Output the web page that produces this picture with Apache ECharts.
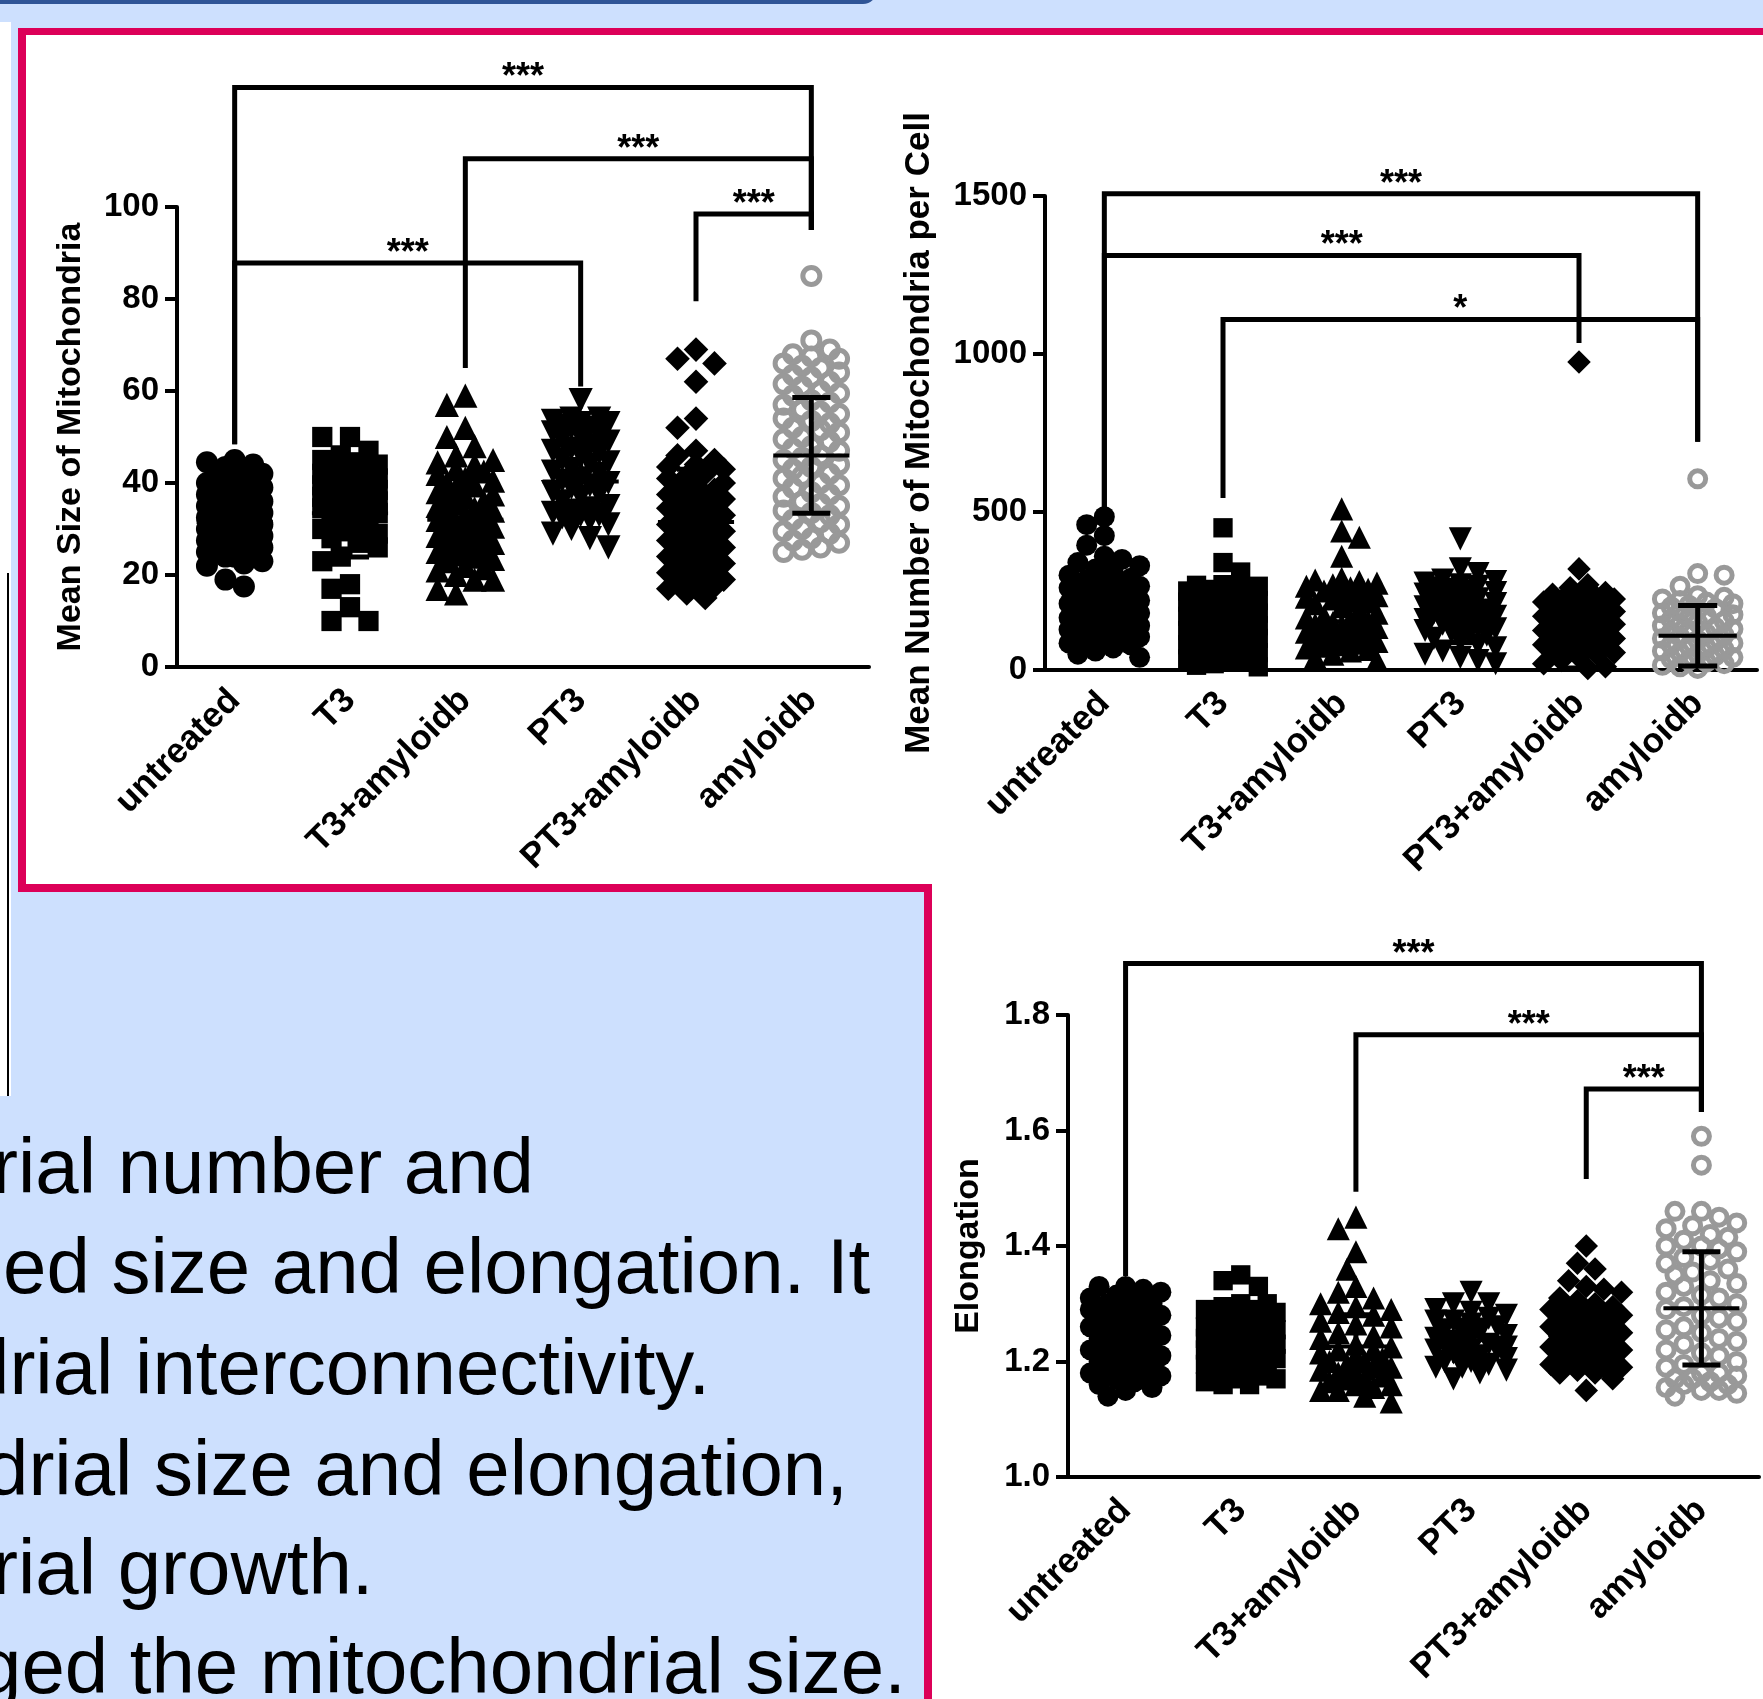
<!DOCTYPE html>
<html>
<head>
<meta charset="utf-8">
<script src="https://cdn.jsdelivr.net/npm/echarts@6/dist/echarts.min.js"></script>
<style>
html,body{margin:0;padding:0;}
body{width:1763px;height:1699px;position:relative;overflow:hidden;background:#cde0fe;font-family:'Liberation Sans',Arial,sans-serif;}
.abs{position:absolute;}
#topbar{left:-20px;top:-30px;width:897px;height:34px;background:#2f5597;border-radius:0 0 14px 0;}
#strip{left:0;top:22px;width:11px;height:1074px;background:#fff;}
#stripline{left:7px;top:573px;width:2px;height:523px;background:#000;}
#white{left:26px;top:35px;right:0;bottom:0;background:#fff;}
#redtop{left:18px;top:28px;right:0;height:7px;background:#dc0058;}
#redleft{left:18px;top:28px;width:8px;height:864px;background:#dc0058;}
#textbox{left:18px;top:884px;width:906px;bottom:0;background:#cde0fe;border-top:8px solid #dc0058;border-right:8px solid #dc0058;}
.ln{position:absolute;white-space:nowrap;font-size:78px;line-height:78px;color:#000;}
#main{position:absolute;left:0;top:0;width:1763px;height:1699px;}
</style>
</head>
<body>
<div class="abs" id="topbar"></div>
<div class="abs" id="white"></div>
<div class="abs" id="textbox"></div>
<div class="abs" id="redtop"></div>
<div class="abs" id="redleft"></div>
<div class="abs" id="strip"></div>
<div class="abs" id="stripline"></div>
<div class="ln" style="left:-8px;top:1127px">rial number and</div>
<div class="ln" style="left:3px;top:1227px">ed size and elongation. It</div>
<div class="ln" style="left:-34px;top:1328px">drial interconnectivity.</div>
<div class="ln" style="left:-15px;top:1429px">drial size and elongation,</div>
<div class="ln" style="left:-8px;top:1528px">rial growth.</div>
<div class="ln" style="left:-22px;top:1627px">ged the mitochondrial size.</div>
<div id="main"></div>
<script>
var categories = ['untreated', 'T3', 'T3+amyloidb', 'PT3', 'PT3+amyloidb', 'amyloidb'];

// mean size of mitochondria
var sizeUntreated = [45, 44.5, 44, 43.5, 43, 42, 42, 41, 41, 40, 40, 39.5, 39, 39, 38, 38, 37.5, 37, 37, 36, 36, 35.5, 35, 35, 34.5, 34, 34, 33.5, 33, 33, 32.5, 32, 32, 31.5, 31, 31, 30.5, 30, 30, 29.5, 29, 29, 28.5, 28, 28, 27.5, 27, 27, 26.5, 26, 26, 25, 25, 24, 24, 23, 22.5, 22, 19, 17.5];
var sizeT3 = [50, 50, 47, 46, 45, 44.5, 44, 43, 42.5, 42, 41.5, 41, 40.5, 40, 40, 39.5, 39, 39, 38.5, 38, 38, 37.5, 37, 37, 36.5, 36, 36, 35.5, 35, 35, 34.5, 34, 34, 33.5, 33, 33, 32, 31, 30, 29.5, 29, 28, 27, 26, 24, 23, 18, 17, 13, 10, 10];
var sizeT3Amy = [59, 57, 52, 50, 48, 46, 45, 44.5, 44, 43, 42.5, 42, 41, 40.5, 40, 39.5, 39, 38, 37.5, 37, 36.5, 36, 35.5, 35, 34.5, 34, 33.5, 33, 32.5, 32, 31.5, 31, 30.5, 30, 29.5, 29, 28.5, 28, 27.5, 27, 26.5, 26, 25.5, 25, 24.5, 24, 23.5, 23, 22, 21.5, 21, 20, 19, 19, 17, 16];
var sizePT3 = [58, 54, 54, 53.5, 53, 53, 52.5, 52, 52, 51, 50.5, 50, 49.5, 49, 48, 47.5, 47, 46.5, 46, 45, 44.5, 44, 43, 42.5, 42, 41, 40.5, 40, 39.5, 39, 38, 37.5, 37, 36, 35, 34.5, 34, 33.5, 33, 33, 32.5, 32, 31, 30, 29, 28, 26];
var sizePT3Amy = [69, 67, 66, 62, 54, 52, 47, 46, 45, 44, 43.5, 43, 42, 41.5, 41, 40, 39.5, 39, 38.5, 38, 37.5, 37, 36.5, 36, 35.5, 35, 34.5, 34, 33.5, 33, 32.5, 32, 31.5, 31, 30.5, 30, 29.5, 29, 28.5, 28, 27.5, 27, 26.5, 26, 25.5, 25, 24.5, 24, 23.5, 23, 22.5, 22, 21.5, 21, 20.5, 20, 19.5, 19, 18.5, 18, 17.5, 17, 16, 15];
var sizeAmy = [85, 71, 69, 68, 67.5, 67, 66, 65.5, 65, 64, 63.5, 63, 62, 61.5, 61, 60, 59.5, 59, 58, 57.5, 57, 56, 55.5, 55, 54, 53.5, 53, 52, 51.5, 51, 50, 49.5, 49, 48, 47.5, 47, 46, 45.5, 45, 44, 43.5, 43, 42, 41.5, 41, 40, 39.5, 39, 38, 37.5, 37, 36, 35.5, 35, 34, 33.5, 33, 32, 31.5, 31, 30, 29.5, 29, 28, 27.5, 27, 26, 25.5, 25];
var sizeMean = [31.5, 33.4, 32, 40.3, 31.5, 46];
var sizeSd = [6.5, 9.5, 9, 7.5, 11.5, 12.6];
var sizeBrackets = [[0, 48.4, 5, 95, 126], [2, 65, 5, 95, 110.5], [4, 79.5, 5, 95, 98.5], [0, 48.4, 3, 61, 87.8]];
var sizeStars = ['***', '***', '***', '***'];

// mean number of mitochondria per cell
var numUntreated = [485, 460, 425, 395, 360, 350, 340, 330, 320, 310, 300, 290, 285, 280, 270, 265, 260, 250, 245, 240, 235, 230, 225, 220, 215, 210, 205, 200, 195, 190, 185, 180, 175, 170, 165, 160, 155, 150, 145, 140, 138, 135, 130, 128, 125, 120, 115, 110, 105, 100, 95, 90, 85, 80, 70, 60, 50, 40];
var numT3 = [450, 340, 310, 270, 268, 265, 260, 255, 250, 245, 240, 235, 230, 225, 220, 215, 210, 205, 200, 195, 190, 185, 180, 175, 170, 165, 160, 155, 150, 145, 140, 135, 130, 125, 120, 115, 110, 105, 100, 95, 90, 85, 80, 75, 70, 65, 60, 55, 50, 45, 40, 35, 30, 25, 20, 15, 10];
var numT3Amy = [510, 440, 420, 360, 290, 285, 280, 275, 270, 265, 260, 255, 250, 245, 240, 235, 230, 225, 220, 215, 210, 200, 190, 180, 170, 165, 160, 155, 150, 145, 140, 135, 130, 125, 120, 115, 110, 100, 95, 90, 85, 80, 75, 70, 65, 60, 50, 40, 30];
var numPT3 = [415, 320, 305, 285, 280, 275, 270, 265, 260, 255, 250, 245, 240, 235, 230, 225, 220, 215, 210, 205, 200, 195, 190, 185, 180, 175, 170, 165, 160, 155, 150, 145, 140, 135, 130, 125, 120, 115, 110, 100, 90, 80, 70, 60, 50, 40, 30, 20];
var numPT3Amy = [975, 320, 270, 260, 245, 240, 235, 230, 225, 220, 215, 210, 205, 200, 195, 190, 185, 180, 175, 170, 165, 160, 155, 150, 145, 140, 135, 130, 125, 120, 115, 110, 105, 100, 95, 90, 85, 80, 75, 70, 65, 60, 55, 50, 40, 30, 20, 10, 5];
var numAmy = [605, 305, 300, 265, 235, 230, 225, 220, 215, 210, 205, 200, 195, 190, 185, 180, 175, 170, 165, 160, 155, 150, 145, 140, 135, 130, 125, 120, 115, 110, 105, 100, 95, 90, 85, 80, 75, 70, 65, 60, 55, 50, 45, 40, 35, 30, 25, 20, 15, 10, 5];
var numMean = [195, 154, 154, 167, 126, 108.5];
var numSd = [95, 85, 95, 80, 120, 95.5];
var numBrackets = [[0, 501, 5, 722, 1507], [0, 501, 4, 1035, 1312], [1, 544, 5, 722, 1109]];
var numStars = ['***', '***', '*'];

// elongation
var elUntreated = [1.33, 1.33, 1.325, 1.32, 1.315, 1.31, 1.305, 1.30, 1.30, 1.295, 1.29, 1.285, 1.28, 1.28, 1.275, 1.27, 1.265, 1.26, 1.26, 1.255, 1.25, 1.245, 1.24, 1.24, 1.235, 1.23, 1.225, 1.22, 1.22, 1.215, 1.21, 1.205, 1.20, 1.20, 1.195, 1.19, 1.185, 1.18, 1.18, 1.175, 1.17, 1.165, 1.16, 1.155, 1.15, 1.14];
var elT3 = [1.35, 1.34, 1.33, 1.30, 1.30, 1.295, 1.29, 1.29, 1.285, 1.28, 1.28, 1.275, 1.27, 1.27, 1.265, 1.26, 1.26, 1.255, 1.25, 1.25, 1.25, 1.245, 1.24, 1.24, 1.24, 1.235, 1.23, 1.23, 1.23, 1.225, 1.22, 1.22, 1.22, 1.215, 1.21, 1.21, 1.21, 1.205, 1.20, 1.20, 1.20, 1.195, 1.19, 1.19, 1.185, 1.18, 1.18, 1.175, 1.17, 1.17, 1.165, 1.16, 1.16];
var elT3Amy = [1.45, 1.43, 1.39, 1.36, 1.33, 1.32, 1.31, 1.30, 1.295, 1.29, 1.285, 1.28, 1.27, 1.265, 1.26, 1.25, 1.245, 1.24, 1.23, 1.225, 1.22, 1.22, 1.215, 1.21, 1.205, 1.20, 1.20, 1.195, 1.19, 1.19, 1.185, 1.18, 1.18, 1.175, 1.17, 1.17, 1.165, 1.16, 1.16, 1.155, 1.15, 1.15, 1.14, 1.13];
var elPT3 = [1.32, 1.30, 1.30, 1.29, 1.285, 1.28, 1.275, 1.27, 1.27, 1.265, 1.26, 1.255, 1.25, 1.25, 1.245, 1.24, 1.24, 1.235, 1.23, 1.23, 1.23, 1.225, 1.22, 1.22, 1.22, 1.215, 1.21, 1.21, 1.205, 1.20, 1.20, 1.195, 1.19, 1.19, 1.185, 1.18, 1.17];
var elPT3Amy = [1.40, 1.37, 1.36, 1.34, 1.33, 1.325, 1.32, 1.31, 1.305, 1.30, 1.295, 1.29, 1.29, 1.285, 1.28, 1.28, 1.275, 1.27, 1.27, 1.265, 1.26, 1.26, 1.255, 1.25, 1.25, 1.245, 1.24, 1.24, 1.235, 1.23, 1.23, 1.225, 1.22, 1.22, 1.215, 1.21, 1.21, 1.205, 1.20, 1.20, 1.195, 1.19, 1.19, 1.185, 1.18, 1.18, 1.17, 1.15];
var elAmy = [1.59, 1.54, 1.46, 1.46, 1.45, 1.44, 1.435, 1.43, 1.42, 1.415, 1.41, 1.40, 1.40, 1.395, 1.39, 1.38, 1.375, 1.37, 1.36, 1.355, 1.35, 1.34, 1.335, 1.33, 1.32, 1.315, 1.31, 1.30, 1.295, 1.29, 1.28, 1.275, 1.27, 1.26, 1.255, 1.25, 1.24, 1.235, 1.23, 1.22, 1.215, 1.21, 1.20, 1.195, 1.19, 1.18, 1.18, 1.175, 1.17, 1.17, 1.165, 1.16, 1.16, 1.155, 1.15, 1.15, 1.145, 1.14];
var elMean = [1.233, 1.233, 1.226, 1.237, 1.246, 1.292];
var elSd = [0.045, 0.04, 0.055, 0.035, 0.05, 0.098];
var elBrackets = [[0, 1.348, 5, 1.632, 1.889], [2, 1.494, 5, 1.632, 1.766], [4, 1.516, 5, 1.632, 1.672]];
var elStars = ['***', '***', '***'];

var FONT = 'Liberation Sans, Arial, sans-serif';
var symbols = ['circle', 'rect', 'triangle', 'triangle', 'diamond', 'circle'];
var rotations = [0, 0, 0, 180, 0, 0];
var sizeScale = [1, 0.92, 1.1, 1.1, 1.12, 1];

// simple beeswarm: spread points sideways until they stop overlapping
function swarm(vals, center, p, symPx) {
  var placed = [];
  var sorted = vals.slice().sort(function (a, b) { return b - a; });
  var step = symPx * 0.42;
  var maxHalf = p.band * 0.32;
  var need = symPx * 0.85;
  return sorted.map(function (v) {
    var y = v * p.ky;
    var best = 0, bestD = -1, done = false;
    for (var k = 0; k * step <= maxHalf + 0.01 && !done; k++) {
      var cands = k ? (placed.length % 2 ? [-k * step, k * step] : [k * step, -k * step]) : [0];
      for (var c = 0; c < cands.length; c++) {
        var x = cands[c], d = Infinity;
        for (var j = 0; j < placed.length; j++) {
          var dd = Math.sqrt(Math.pow(placed[j][0] - x, 2) + Math.pow(placed[j][1] - y, 2));
          if (dd < d) d = dd;
        }
        if (d >= need) { best = x; done = true; break; }
        if (d > bestD) { bestD = d; best = x; }
      }
    }
    placed.push([best, y]);
    return [center + best / p.band, v];
  });
}

function panel(p, groups, mean, sd, brackets, stars, symPx) {
  var out = [];
  groups.forEach(function (vals, i) {
    var gray = i === 5;
    out.push({
      type: 'scatter', xAxisIndex: p.xv, yAxisIndex: p.y, silent: true, z: 2,
      data: swarm(vals, i, p, symPx),
      symbol: symbols[i], symbolRotate: rotations[i],
      symbolSize: gray ? symPx - 5 : symPx * sizeScale[i],
      itemStyle: gray ? { color: 'rgba(0,0,0,0)', borderColor: '#999999', borderWidth: 5, opacity: 1 } : { color: '#000', opacity: 1 }
    });
  });
  out.push({
    type: 'custom', xAxisIndex: p.xv, yAxisIndex: p.y, silent: true, z: 5,
    data: mean.map(function (m, i) { return [i, m, sd[i]]; }),
    encode: { x: 0, y: 1 },
    renderItem: function (params, api) {
      var x = api.value(0), m = api.value(1), s = api.value(2);
      var c = api.coord([x, m]), hi = api.coord([x, m + s]), lo = api.coord([x, m - s]);
      var band = api.size([1, 0])[0];
      var half = band * 0.33, cap = band * 0.165;
      var st = { stroke: '#000', lineWidth: 5 };
      return { type: 'group', children: [
        { type: 'line', shape: { x1: c[0] - half, y1: c[1], x2: c[0] + half, y2: c[1] }, style: { stroke: '#000', lineWidth: 4 } },
        { type: 'line', shape: { x1: c[0], y1: hi[1], x2: c[0], y2: lo[1] }, style: st },
        { type: 'line', shape: { x1: c[0] - cap, y1: hi[1], x2: c[0] + cap, y2: hi[1] }, style: st },
        { type: 'line', shape: { x1: c[0] - cap, y1: lo[1], x2: c[0] + cap, y2: lo[1] }, style: st }
      ] };
    }
  });
  out.push({
    type: 'custom', xAxisIndex: p.xv, yAxisIndex: p.y, silent: true, z: 6,
    data: brackets,
    encode: { x: [0, 2], y: [1, 3, 4] },
    renderItem: function (params, api) {
      var a = api.coord([api.value(0), api.value(1)]);
      var b = api.coord([api.value(0), api.value(4)]);
      var c = api.coord([api.value(2), api.value(4)]);
      var d = api.coord([api.value(2), api.value(3)]);
      return { type: 'group', children: [
        { type: 'polyline', shape: { points: [a, b, c, d] }, style: { stroke: '#000', lineWidth: 5, fill: null, lineJoin: 'miter' } },
        { type: 'text', x: (b[0] + c[0]) / 2, y: b[1] - 9,
          style: { text: stars[params.dataIndex], fontSize: 36, fontWeight: 'bold', fontFamily: FONT, fill: '#000', align: 'center', verticalAlign: 'middle' } }
      ] };
    }
  });
  return out;
}

function catAxis(g) {
  return {
    type: 'category', gridIndex: g, data: categories, boundaryGap: true,
    axisLine: { onZero: false, lineStyle: { color: '#000', width: 4 } },
    axisTick: { alignWithLabel: true, length: 14, lineStyle: { color: '#000', width: 4 } },
    axisLabel: { rotate: 45, interval: 0, margin: 28, fontSize: 35, fontWeight: 'bold', color: '#000', fontFamily: FONT }
  };
}
function valAxis(g) {
  return { type: 'value', gridIndex: g, min: -0.5, max: 5.5, show: false };
}
function yAxis(g, min, max, interval, name, gap, nameSize, fmt) {
  return {
    type: 'value', gridIndex: g, min: min, max: max, interval: interval,
    name: name, nameLocation: 'middle', nameGap: gap,
    nameTextStyle: { fontSize: nameSize, fontWeight: 'bold', color: '#000', fontFamily: FONT },
    axisLine: { show: true, onZero: false, lineStyle: { color: '#000', width: 4 } },
    axisTick: { show: true, length: 12, lineStyle: { color: '#000', width: 4 } },
    splitLine: { show: false },
    axisLabel: { margin: 18, fontSize: 33, fontWeight: 'bold', color: '#000', fontFamily: FONT, formatter: fmt }
  };
}

var p1 = { xv: 1, y: 0, band: 692 / 6, ky: 460 / 100 };
var p2 = { xv: 3, y: 1, band: 712 / 6, ky: 474 / 1500 };
var p3 = { xv: 5, y: 2, band: 691 / 6, ky: 462 / 0.8 };

var series = [].concat(
  panel(p1, [sizeUntreated, sizeT3, sizeT3Amy, sizePT3, sizePT3Amy, sizeAmy], sizeMean, sizeSd, sizeBrackets, sizeStars, 22),
  panel(p2, [numUntreated, numT3, numT3Amy, numPT3, numPT3Amy, numAmy], numMean, numSd, numBrackets, numStars, 21),
  panel(p3, [elUntreated, elT3, elT3Amy, elPT3, elPT3Amy, elAmy], elMean, elSd, elBrackets, elStars, 21)
);

var myChart = echarts.init(document.getElementById('main'));
var option = {
  animation: false,
  backgroundColor: 'transparent',
  textStyle: { fontFamily: FONT },
  grid: [
    { left: 177, top: 207, width: 692, height: 460 },
    { left: 1045, top: 196, width: 712, height: 474 },
    { left: 1068, top: 1015, width: 691, height: 462 }
  ],
  xAxis: [catAxis(0), valAxis(0), catAxis(1), valAxis(1), catAxis(2), valAxis(2)],
  yAxis: [
    yAxis(0, 0, 100, 20, 'Mean Size of Mitochondria', 89, 34, function (v) { return String(v); }),
    yAxis(1, 0, 1500, 500, 'Mean Number of Mitochondria per Cell', 108, 35, function (v) { return String(v); }),
    yAxis(2, 1.0, 1.8, 0.2, 'Elongation', 82, 34, function (v) { return v.toFixed(1); })
  ],
  series: series
};
myChart.setOption(option);
</script>
</body>
</html>
